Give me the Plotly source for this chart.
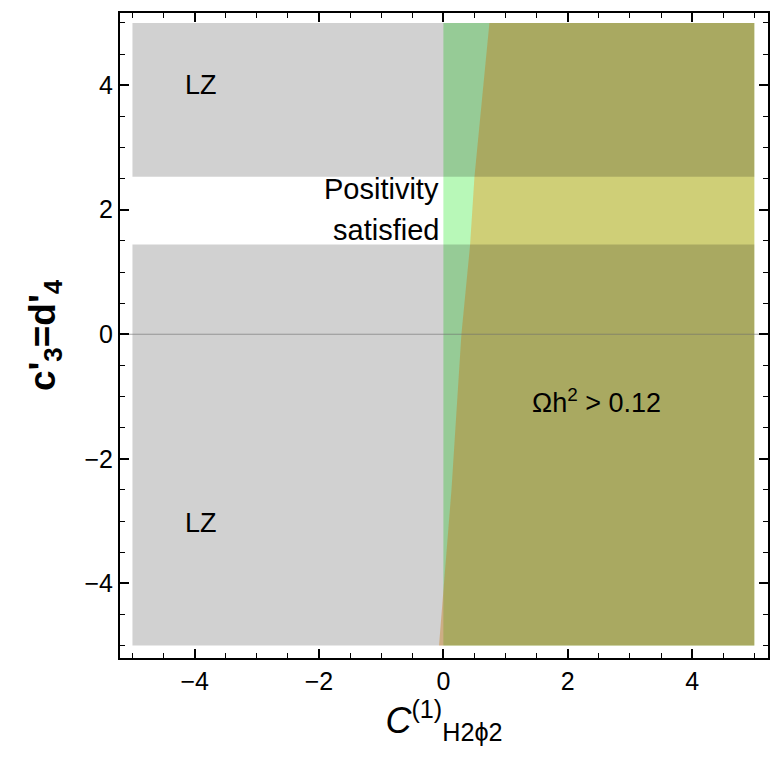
import plotly.graph_objects as go

# Parameter-space extent
x_lo, x_hi = -5.0, 5.0
y_lo, y_hi = -5.0, 5.0

# Positivity band in c'3 = d'4 (not excluded by LZ)
band_lo, band_hi = 1.44, 2.53

# Positivity: C >= 0
pos_x_min = 0.0

# Relic-density boundary Omega h^2 = 0.12 (C value vs c'3)
relic_y = [-5.0, -2.5, 0.0, 1.44, 2.53, 5.0]
relic_x = [-0.07, 0.13, 0.29, 0.43, 0.50, 0.74]

FONT = "Liberation Sans, Arial, sans-serif"

fig = go.Figure()

# Positivity region (green)
fig.add_trace(go.Scatter(
    x=[pos_x_min, x_hi, x_hi, pos_x_min],
    y=[y_lo, y_lo, y_hi, y_hi],
    fill="toself", mode="none", fillcolor="rgba(0,230,0,0.28)",
    hoverinfo="skip", showlegend=False))

# Relic overabundance region (orange)
ox = relic_x + [x_hi, x_hi]
oy = relic_y + [y_hi, y_lo]
fig.add_trace(go.Scatter(
    x=ox, y=oy, fill="toself", mode="none",
    fillcolor="rgba(242,145,22,0.40)", hoverinfo="skip", showlegend=False))

# LZ excluded regions (gray)
for ya, yb in [(band_hi, y_hi), (y_lo, band_lo)]:
    fig.add_trace(go.Scatter(
        x=[x_lo, x_hi, x_hi, x_lo], y=[ya, ya, yb, yb],
        fill="toself", mode="none", fillcolor="rgba(0,0,0,0.18)",
        hoverinfo="skip", showlegend=False))

# y = 0 axis line
fig.add_trace(go.Scatter(
    x=[-5.2, 5.22], y=[0, 0], mode="lines",
    line=dict(color="rgba(110,110,110,0.6)", width=1),
    hoverinfo="skip", showlegend=False))

ann_font = dict(family=FONT, size=27, color="black")
fig.add_annotation(x=-3.9, y=4.0, text="LZ", showarrow=False, font=ann_font)
fig.add_annotation(x=-3.9, y=-3.03, text="LZ", showarrow=False, font=ann_font)
fig.add_annotation(x=-0.04, y=2.33, text="Positivity", showarrow=False,
                   xanchor="right", font=dict(family=FONT, size=29, color="black"))
fig.add_annotation(x=-0.04, y=1.67, text="satisfied", showarrow=False,
                   xanchor="right", font=dict(family=FONT, size=29, color="black"))
fig.add_annotation(x=2.47, y=-1.07, text="Ωh<sup>2</sup> > 0.12", showarrow=False,
                   font=ann_font)

axis_common = dict(
    showgrid=False, zeroline=False, showline=True, linecolor="black", linewidth=2,
    mirror="ticks", ticks="inside", ticklen=9, tickwidth=1.5, tickcolor="black",
    dtick=2, tick0=0,
    minor=dict(dtick=0.5, ticks="inside", ticklen=5, tickwidth=1, tickcolor="black"),
    tickfont=dict(family=FONT, size=25, color="black"),
)

fig.update_xaxes(range=[-5.2, 5.22], **axis_common,
                 title=dict(text="<i>C</i><sup>(1)</sup><sub>H2ϕ2</sub>",
                            font=dict(family=FONT, size=36, color="black"), standoff=6))
fig.update_yaxes(range=[-5.2, 5.16], **axis_common,
                 title=dict(text="<b>c'<sub>3</sub>=d'<sub>4</sub></b>",
                            font=dict(family=FONT, size=37, color="black"), standoff=18))

fig.update_layout(
    width=767, height=747,
    margin=dict(l=112, r=7, t=3, b=97),
    plot_bgcolor="white", paper_bgcolor="white",
)

fig.write_html("out.html")
